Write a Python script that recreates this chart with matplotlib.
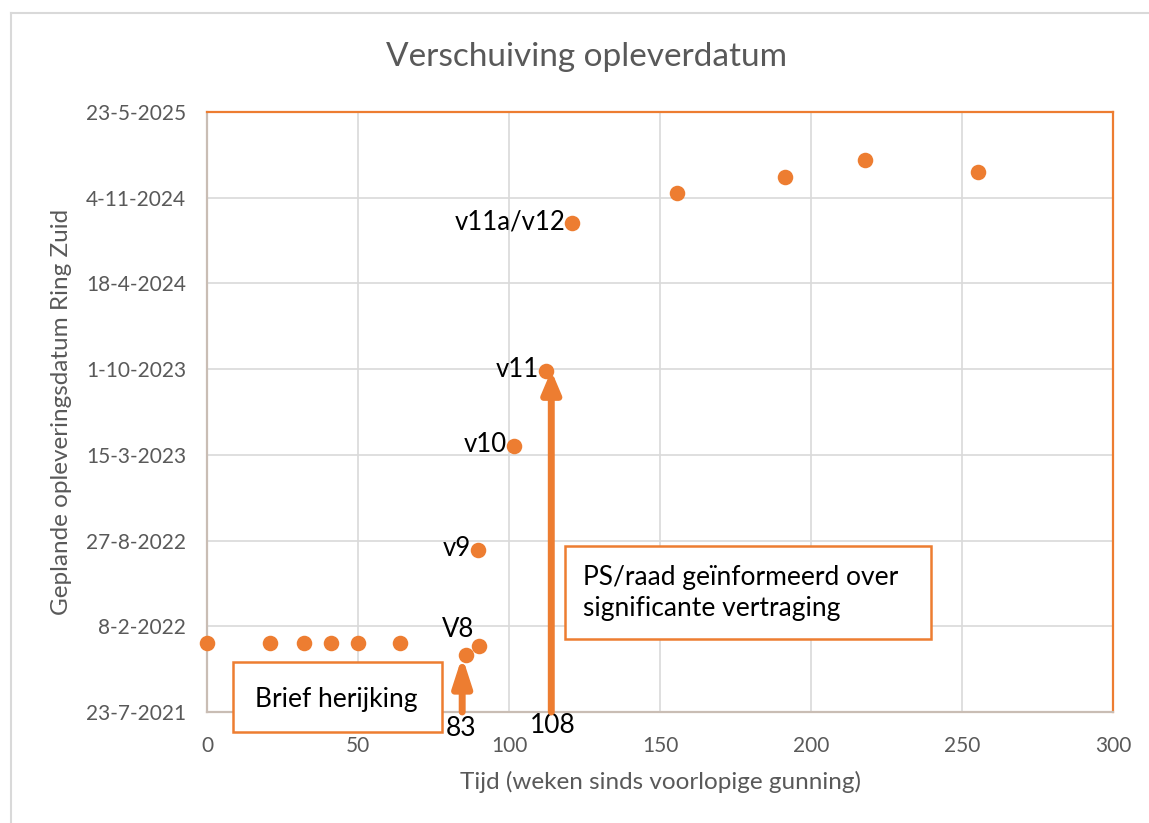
import numpy as np
import matplotlib
matplotlib.use("Agg")
import matplotlib.pyplot as plt
import matplotlib.dates as mdates
from matplotlib.lines import Line2D
from matplotlib.ticker import FixedLocator, FuncFormatter
import datetime as dt

plt.rcParams['font.family'] = ['Lato', 'DejaVu Sans']

# Data: weeks since provisional award vs planned delivery date
weeks = [0, 21, 32, 41, 50, 64, 85.8, 90, 89.7, 101.7, 112.3, 121, 155.6, 191.4, 217.9, 255.3]
dates = ["2021-12-31", "2021-12-31", "2021-12-31", "2021-12-31", "2021-12-31", "2021-12-31",
         "2021-12-03", "2021-12-24", "2022-08-05", "2023-04-05", "2023-09-27", "2024-09-05",
         "2024-11-16", "2024-12-23", "2025-01-30", "2025-01-02"]
point_labels = ["", "", "", "", "", "", "", "V8", "v9", "v10", "v11", "v11a/v12", "", "", "", ""]

ytick_dates = ["2021-07-23", "2022-02-08", "2022-08-27", "2023-03-15", "2023-10-01",
               "2024-04-18", "2024-11-04", "2025-05-23"]
xticks = [0, 50, 100, 150, 200, 250, 300]

arrow_weeks = [84.5, 114.0]
arrow_labels = ["83", "108"]
arrow_tip_dates = ["2021-11-30", "2023-09-28"]

ORANGE = "#ED7D31"
GRAY = "#595959"

yvals = [mdates.date2num(dt.date.fromisoformat(d)) for d in dates]
yticks = [mdates.date2num(dt.date.fromisoformat(d)) for d in ytick_dates]
arrow_tips = [mdates.date2num(dt.date.fromisoformat(d)) for d in arrow_tip_dates]

W, H = 1149, 823
fig = plt.figure(figsize=(W / 100, H / 100), dpi=100)
ax = fig.add_axes([207 / W, 1 - 712 / H, (1113 - 207) / W, (712 - 112) / H])

ax.set_xlim(0, 300)
ax.set_ylim(yticks[0], yticks[-1])
ax.xaxis.set_major_locator(FixedLocator(xticks))
ax.yaxis.set_major_locator(FixedLocator(yticks))

def fmt_date(v, pos):
    d = mdates.num2date(v)
    return f"{d.day}-{d.month}-{d.year}"

ax.yaxis.set_major_formatter(FuncFormatter(fmt_date))
ax.grid(True, color="#D9D9D9", linewidth=1.2, zorder=0)
ax.set_axisbelow(True)
ax.tick_params(axis='y', length=0, labelsize=15, labelcolor=GRAY, pad=15)
ax.tick_params(axis='x', length=0, labelsize=15, labelcolor=GRAY, pad=17)

for s in ["top", "right"]:
    ax.spines[s].set_color(ORANGE)
    ax.spines[s].set_linewidth(1.6)
for s in ["left", "bottom"]:
    ax.spines[s].set_color("#C9BDB4")
    ax.spines[s].set_linewidth(1.6)

ax.scatter(weeks, yvals, s=125, color=ORANGE, zorder=5, clip_on=False, linewidths=0)

for x, y, lab in zip(weeks, yvals, point_labels):
    if not lab:
        continue
    if lab == "V8":
        ax.annotate(lab, (x, y), xytext=(-3, 3), textcoords="offset points",
                    ha="right", va="bottom", fontsize=18.5, color="black")
    else:
        ax.annotate(lab, (x, y), xytext=(-5, 1), textcoords="offset points",
                    ha="right", va="center", fontsize=18.5, color="black")

# Arrows
for xw, tip, hl in zip(arrow_weeks, arrow_tips, [17, 13]):
    ax.annotate("", xy=(xw, tip), xytext=(xw, yticks[0]),
                arrowprops=dict(arrowstyle=f"-|>,head_length={hl/10:.1f},head_width=0.55",
                                color=ORANGE, lw=5, shrinkA=0, shrinkB=0),
                zorder=6, annotation_clip=False)

ax.annotate(arrow_labels[0], (arrow_weeks[0], yticks[0]), xytext=(-1, -3),
            textcoords="offset points", ha="center", va="top", fontsize=19, color="black")
ax.annotate(arrow_labels[1], (arrow_weeks[1], yticks[0]), xytext=(1, -1),
            textcoords="offset points", ha="center", va="top", fontsize=19, color="black")

# Text boxes (figure pixel placement)
def fig_box(x0, y0, x1, y1):
    rect = plt.Rectangle((x0 / W, 1 - y1 / H), (x1 - x0) / W, (y1 - y0) / H,
                         transform=fig.transFigure, facecolor="white",
                         edgecolor=ORANGE, linewidth=1.8, zorder=10)
    fig.add_artist(rect)

fig_box(233, 662, 442, 732)
fig.text(336 / W, 1 - 699 / H, "Brief herijking", ha="center", va="center",
         fontsize=19, color="black", zorder=11)
fig_box(565, 546, 931, 639)
fig.text(583 / W, 1 - 593 / H, "PS/raad geïnformeerd over\nsignificante vertraging",
         ha="left", va="center", fontsize=19, color="black", linespacing=1.3, zorder=11)

# Titles
fig.text(586 / W, 1 - 57 / H, "Verschuiving opleverdatum", ha="center", va="center",
         fontsize=24, color=GRAY)
fig.text(660 / W, 1 - 782 / H, "Tijd (weken sinds voorlopige gunning)", ha="center",
         va="center", fontsize=17.5, color=GRAY)
fig.text(62 / W, 1 - 412 / H, "Geplande opleveringsdatum Ring Zuid", ha="center",
         va="center", rotation=90, fontsize=17.5, color=GRAY)

# Outer chart border (top and left visible)
fig.add_artist(Line2D([11 / W, 11 / W], [0, 1 - 13 / H], transform=fig.transFigure,
                      color="#D9D9D9", linewidth=1.5))
fig.add_artist(Line2D([11 / W, 1], [1 - 13 / H, 1 - 13 / H], transform=fig.transFigure,
                      color="#D9D9D9", linewidth=1.5))

fig.savefig("out.png", dpi=100, facecolor="white")
